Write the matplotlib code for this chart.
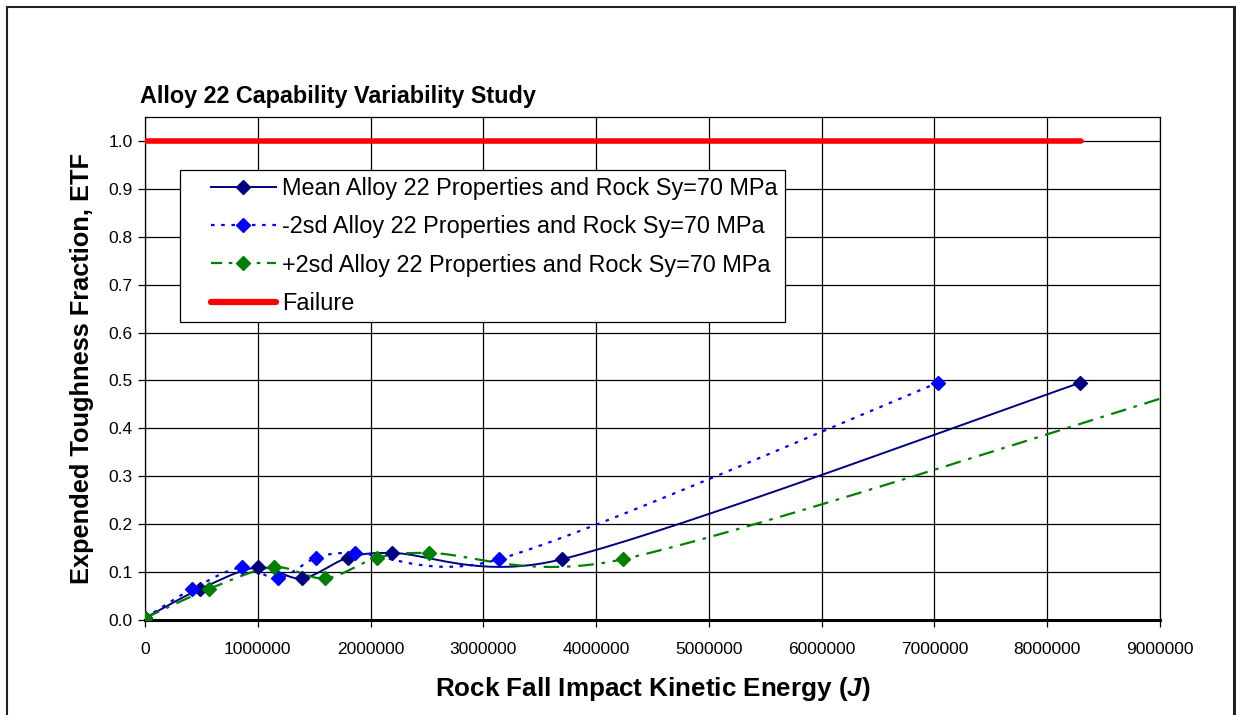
import numpy as np
import matplotlib
matplotlib.use("Agg")
import matplotlib.pyplot as plt
from matplotlib.lines import Line2D
from matplotlib.legend_handler import HandlerLine2D
from matplotlib.ticker import FormatStrFormatter

plt.rcParams["font.family"] = ["Liberation Sans", "DejaVu Sans"]
plt.rcParams["mathtext.fontset"] = "custom"
plt.rcParams["mathtext.bfit"] = "Liberation Sans:bold:italic"
plt.rcParams["mathtext.bf"] = "Liberation Sans:bold"
plt.rcParams["mathtext.rm"] = "Liberation Sans"

# --- data -------------------------------------------------------------
mean_energy = [0, 490000, 1000000, 1390000, 1800000, 2190000, 3700000, 8290000]
mean_etf = [0.004, 0.065, 0.110, 0.087, 0.130, 0.140, 0.127, 0.495]

minus_energy = [0, 420000, 860000, 1180000, 1520000, 1860000, 3140000, 7030000]
minus_etf = [0.004, 0.065, 0.110, 0.087, 0.130, 0.140, 0.127, 0.495]

plus_energy = [0, 570000, 1140000, 1600000, 2060000, 2520000, 4240000, 9450000]
plus_etf = [0.004, 0.065, 0.110, 0.087, 0.130, 0.140, 0.127, 0.495]

failure_energy = [0, 8300000]
failure_etf = [1.0, 1.0]

x_ticks = list(range(0, 9000001, 1000000))
y_ticks = [round(0.1 * i, 1) for i in range(11)]

labels = [
    "Mean Alloy 22 Properties and Rock Sy=70 MPa",
    "-2sd Alloy 22 Properties and Rock Sy=70 MPa",
    "+2sd Alloy 22 Properties and Rock Sy=70 MPa",
    "Failure",
]

X_MAX, Y_MAX = 9000000, 1.05


def smooth(xs, ys, n=40, sx=1015 / X_MAX, sy=503 / Y_MAX):
    """Spreadsheet-style smoothed line: cubic Bezier through every point,
    with tangent handles limited to half of the segment length (on screen)."""
    p = np.column_stack([np.asarray(xs, float) * sx, np.asarray(ys, float) * sy])
    out = [p[0]]
    t = np.linspace(0, 1, n)[1:, None]
    for i in range(len(p) - 1):
        p0 = p[i - 1] if i > 0 else p[i]
        p1, p2 = p[i], p[i + 1]
        p3 = p[i + 2] if i + 2 < len(p) else p[i + 1]
        seg_len = np.hypot(*(p2 - p1))
        d1 = (p2 - p0) / 6.0
        d2 = (p3 - p1) / 6.0
        for d in (d1, d2):
            ln = np.hypot(*d)
            if ln > 0.5 * seg_len:
                d *= 0.5 * seg_len / ln
        c1 = p1 + d1
        c2 = p2 - d2
        seg = ((1 - t) ** 3) * p1 + 3 * ((1 - t) ** 2) * t * c1 \
            + 3 * (1 - t) * t ** 2 * c2 + t ** 3 * p2
        out.extend(seg)
    out = np.array(out)
    return out[:, 0] / sx, out[:, 1] / sy


class OffsetLineHandler(HandlerLine2D):
    """Legend sample line that starts a little in from the left edge."""

    def __init__(self, offset_px=17, **kw):
        super().__init__(**kw)
        self.offset_px = offset_px

    def get_xdata(self, legend, xdescent, ydescent, width, height, fontsize):
        x0 = -xdescent + self.offset_px
        x1 = -xdescent + width
        return np.array([x0, x1]), np.array([0.5 * (x0 + x1)])


fig = plt.figure(figsize=(12.36, 7.15), dpi=100)
ax = fig.add_axes([145 / 1236, 1 - 620 / 715, (1160 - 145) / 1236, (620 - 117) / 715])

navy, blue, green, red = "#000080", "#0000FF", "#008000", "#FF0000"
ms = 7.5
blue_dash = (1.6, 3.0)
green_dash = (7, 3.5, 1.6, 3.5)

sx, sy = smooth(mean_energy, mean_etf)
ax.plot(sx, sy, color=navy, lw=1.4, zorder=4)
ax.plot(mean_energy, mean_etf, ls="none", marker="D", ms=ms, color=navy, zorder=5)

sx, sy = smooth(minus_energy, minus_etf)
ax.plot(sx, sy, color=blue, lw=1.6, dashes=blue_dash, zorder=4)
ax.plot(minus_energy, minus_etf, ls="none", marker="D", ms=ms, color=blue, zorder=5)

sx, sy = smooth(plus_energy, plus_etf)
ax.plot(sx, sy, color=green, lw=1.6, dashes=green_dash, zorder=4)
ax.plot(plus_energy, plus_etf, ls="none", marker="D", ms=ms, color=green, zorder=5)

ax.plot(failure_energy, failure_etf, color=red, lw=4, solid_capstyle="round", zorder=3)

ax.set_xlim(0, X_MAX)
ax.set_ylim(0, Y_MAX)
ax.set_xticks(x_ticks)
ax.set_xticklabels([str(v) for v in x_ticks])
ax.set_yticks(y_ticks)
ax.yaxis.set_major_formatter(FormatStrFormatter("%.1f"))
ax.grid(True, color="black", lw=0.9)
ax.set_axisbelow(True)
ax.tick_params(direction="out", length=5, width=0.9, color="black", labelsize=12.5, pad=4)
ax.tick_params(axis="x", pad=11)
for side in ("left", "right", "top"):
    ax.spines[side].set_linewidth(0.9)
ax.spines["bottom"].set_linewidth(2.2)

ax.set_xlabel(r"Rock Fall Impact Kinetic Energy ($\mathbfit{J}$)", fontsize=18.7,
              fontweight="bold", labelpad=13)
ax.set_ylabel("Expended Toughness Fraction, ETF", fontsize=18.3, fontweight="bold",
              labelpad=10)
fig.text(140 / 1236, 1 - 97 / 715, "Alloy 22 Capability Variability Study",
         fontsize=16.8, fontweight="bold", ha="left", va="center")

handles = [
    Line2D([], [], color=navy, lw=1.4, marker="D", ms=7),
    Line2D([], [], color=blue, lw=1.6, dashes=blue_dash, marker="D", ms=7),
    Line2D([], [], color=green, lw=1.6, dashes=(5, 3, 1.6, 3), marker="D", ms=7),
    Line2D([], [], color=red, lw=4.5, solid_capstyle="round"),
]
leg = ax.legend(handles, labels, loc="upper left",
                bbox_to_anchor=((180 - 145) / 1015, (620 - 170) / 503),
                fontsize=16.9, frameon=True, fancybox=False, framealpha=1,
                edgecolor="black", handlelength=3.8, handletextpad=0.26,
                borderpad=0.3, labelspacing=0.65, numpoints=1, borderaxespad=0,
                handler_map={Line2D: OffsetLineHandler(offset_px=17)})
leg.get_frame().set_linewidth(0.9)

# chart border
border_kw = dict(transform=fig.transFigure, color="#222222", clip_on=False)
fig.add_artist(Line2D([7 / 1236, 7 / 1236], [1 - 7 / 715, -0.1], lw=1.5, **border_kw))
fig.add_artist(Line2D([7 / 1236, 1234 / 1236], [1 - 7 / 715, 1 - 7 / 715], lw=1.5, **border_kw))
fig.add_artist(Line2D([1234 / 1236, 1234 / 1236], [1 - 7 / 715, -0.1], lw=2.2, **border_kw))

fig.savefig("out.png", dpi=100)
